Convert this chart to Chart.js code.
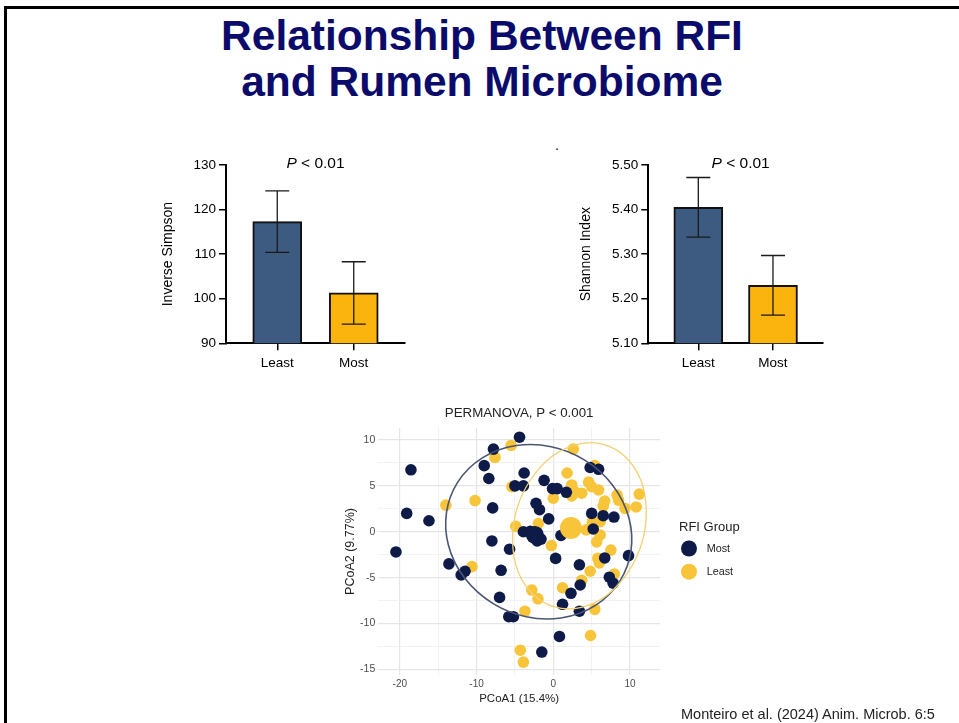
<!DOCTYPE html>
<html lang="en">
<head>
<meta charset="UTF-8">
<title>Relationship Between RFI and Rumen Microbiome</title>
<script src="https://cdn.jsdelivr.net/npm/chart.js"></script>
<style>
  html, body { margin: 0; padding: 0; background: #fff; }
  body { width: 959px; height: 723px; position: relative; overflow: hidden; font-family: "Liberation Sans", Arial, sans-serif; }
  .frame { position: absolute; left: 4px; top: 6px; width: 1000px; height: 800px; border-left: 3px solid #000; border-top: 3px solid #000; }
  h1 { position: absolute; left: 0; top: 13px; width: 964px; margin: 0; text-align: center; font-size: 42.5px; line-height: 46px; font-weight: bold; color: #0b0b6b; }
  canvas { position: absolute; }
  .dot { position: absolute; left: 555px; top: 137px; font-size: 14px; line-height: 16px; }
  .cite { position: absolute; left: 681px; top: 706px; font-size: 14.5px; line-height: 16px; color: #222; white-space: nowrap; }
</style>
</head>
<body>
<div class="frame"></div>
<h1>Relationship Between RFI<br>and Rumen Microbiome</h1>
<div class="dot">.</div>

<canvas id="simpson" width="270" height="240" style="left:150px; top:140px;"></canvas>
<canvas id="shannon" width="270" height="240" style="left:568px; top:140px;"></canvas>
<canvas id="pcoa" width="460" height="317" style="left:330px; top:395px;"></canvas>

<div class="cite">Monteiro et al. (2024) Anim. Microb. 6:5</div>

<script>
// --- datos de las barras ---
const groups = ['Least', 'Most'];
const barColors = ['#3d5a80', '#fbb30d'];
const inverseSimpson = [117.3, 101.3];
const inverseSimpsonErr = [6.9, 7.0];
const shannon = [5.405, 5.23];
const shannonErr = [0.067, 0.067];
const simpsonTicks = [90, 100, 110, 120, 130];
const shannonTicks = [5.1, 5.2, 5.3, 5.4, 5.5];

// --- datos de la PCoA (PCoA1, PCoA2) ---
const mostPC1 = [-4.4, -7.8, -18.55, -9.0, -8.4, -3.8, -5.0, -3.9, -7.9, -19.1, -16.2, -8.0, -5.7, -20.5, -13.6, -12.0, -11.5, -6.8, -7.0, -5.8, -5.2,
  -1.2, -0.1, 0.5, 1.7, 4.8, 5.9, -2.25, -1.8, -0.6, 5.0, 6.5, 7.9, -3.9, -3.0, -1.6, -2.1, -2.7, 1.0, 5.2, 9.8, 0.3, 3.4, 6.7, 7.3, 7.8, 2.3, 3.5, 1.2, 3.4, 0.8, -1.5];
const mostPC2 = [10.3, 9.0, 6.75, 7.2, 5.8, 6.4, 5.0, 5.0, 2.6, 2.0, 1.2, -1.0, -1.9, -2.2, -3.5, -4.7, -4.3, -4.2, -7.15, -9.25, -9.25,
  5.6, 4.7, 4.7, 4.3, 7.0, 6.8, 3.1, 2.4, 1.4, 2.0, 1.75, 1.6, 0.0, 0.05, -0.8, -1.0, -0.5, -0.4, 0.3, -2.6, -2.9, -3.6, -2.85, -4.95, -5.6, -6.7, -5.8, -7.9, -8.65, -11.4, -13.1];
const leastPC1 = [-5.5, -7.6, -5.4, -14.0, -10.2, -4.9, -10.6, 2.6, 5.4, 1.8, 4.6, 2.4, 5.9, 5.0, 2.8, 3.7, 2.4, 0.0, 8.3, 8.5, 6.7, 6.5, 11.2, 10.8, 9.35,
  5.1, 6.1, -1.95, 4.3, 6.1, 5.65, -0.25, 7.5, 5.8, 6.0, 4.8, 3.7, 7.95, -2.8, -2.0, 1.2, -3.7, 5.4, 4.85, -4.3, -3.9];
const leastPC2 = [9.4, 8.1, 4.9, 2.9, 3.4, 0.6, -3.8, 9.0, 7.2, 6.4, 5.4, 5.1, 4.55, 4.9, 4.35, 4.2, 3.9, 3.65, 4.0, 3.45, 3.35, 2.8, 4.1, 2.7, 2.55,
  1.1, 1.1, 0.9, 0.2, -0.35, -1.1, -1.5, -2.0, -2.9, -3.4, -4.3, -5.3, -4.6, -6.35, -7.3, -6.1, -8.65, -8.45, -11.3, -12.9, -14.2];
const mostCentroid = [-2.4, -0.35];
const leastCentroid = [2.3, 0.4];
// elipses: centro x, centro y, semiejes a y b, giro en grados
const mostEllipse = [-1.9, 0.0, 12.2, 9.4, -10];
const leastEllipse = [3.4, 0.65, 9.6, 8.1, 51.5];
const pcoaXTicks = [-20, -15, -10, -5, 0, 5, 10];
const pcoaYTicks = [-15, -12.5, -10, -7.5, -5, -2.5, 0, 2.5, 5, 7.5, 10];

const navy = '#0e1a48';
const gold = '#f8c43a';
const FONT = '"Liberation Sans", Arial, sans-serif';

// barras de error (media +/- error)
const errorBars = {
  id: 'errorBars',
  afterDatasetsDraw(chart) {
    const ctx = chart.ctx;
    const ds = chart.data.datasets[0];
    const yScale = chart.scales.y;
    ctx.save();
    ctx.strokeStyle = '#1a1a1a';
    ctx.lineWidth = 1.3;
    chart.getDatasetMeta(0).data.forEach((bar, i) => {
      const v = ds.data[i].y;
      const top = yScale.getPixelForValue(v + ds.errors[i]);
      const bot = yScale.getPixelForValue(v - ds.errors[i]);
      ctx.beginPath();
      ctx.moveTo(bar.x, top); ctx.lineTo(bar.x, bot);
      ctx.moveTo(bar.x - 12, top); ctx.lineTo(bar.x + 12, top);
      ctx.moveTo(bar.x - 12, bot); ctx.lineTo(bar.x + 12, bot);
      ctx.stroke();
    });
    ctx.restore();
  }
};

// texto "P < 0.01" con la P en cursiva
const pLabel = {
  id: 'pLabel',
  afterDraw(chart, args, opts) {
    const ctx = chart.ctx;
    const cx = chart.scales.x.getPixelForValue(0.5) + (opts.shift || 0);
    const y = chart.chartArea.top + 3.3;
    ctx.save();
    ctx.fillStyle = '#000';
    ctx.textBaseline = 'alphabetic';
    ctx.textAlign = 'left';
    ctx.font = 'italic 15.5px ' + FONT;
    const w1 = ctx.measureText('P').width;
    ctx.font = '15.5px ' + FONT;
    const w2 = ctx.measureText(opts.text).width;
    const x0 = cx - (w1 + w2) / 2;
    ctx.font = 'italic 15.5px ' + FONT;
    ctx.fillText('P', x0, y);
    ctx.font = '15.5px ' + FONT;
    ctx.fillText(opts.text, x0 + w1, y);
    ctx.restore();
  }
};

function barChart(id, values, errs, ticks, title, fmt, yWidth, pShift) {
  new Chart(document.getElementById(id), {
    type: 'bar',
    data: {
      datasets: [{
        data: values.map((v, i) => ({ x: i, y: v })),
        errors: errs,
        backgroundColor: barColors,
        borderColor: '#111',
        borderWidth: 2,
        borderSkipped: false,
        barThickness: 49
      }]
    },
    options: {
      responsive: false,
      animation: false,
      events: [],
      layout: { padding: { top: 25, right: 15, left: 0, bottom: 0 } },
      plugins: {
        legend: { display: false },
        tooltip: { enabled: false },
        pLabel: { text: ' < 0.01', shift: pShift }
      },
      scales: {
        x: {
          type: 'linear',
          offset: false,
          min: -0.67,
          max: 1.67,
          afterBuildTicks: s => { s.ticks = groups.map((g, i) => ({ value: i })); },
          afterFit: s => { s.height = 36.7; },
          ticks: {
            autoSkip: false,
            maxRotation: 0,
            padding: 5,
            color: '#000',
            font: { family: FONT, size: 13.5 },
            callback: v => groups[v]
          },
          grid: { offset: false, drawOnChartArea: false, drawTicks: true, tickLength: 7, color: '#000', lineWidth: 1.5 },
          border: { display: true, color: '#000', width: 2 }
        },
        y: {
          min: ticks[0],
          max: ticks[ticks.length - 1],
          afterBuildTicks: s => { s.ticks = ticks.map(v => ({ value: v })); },
          afterFit: s => { s.width = yWidth; },
          ticks: {
            padding: 3,
            color: '#000',
            font: { family: FONT, size: 13.5 },
            callback: fmt
          },
          title: { display: true, text: title, color: '#000', font: { family: FONT, size: 14 }, padding: { top: 10, bottom: 0 } },
          grid: { drawOnChartArea: false, drawTicks: true, tickLength: 7, color: '#000', lineWidth: 1.5 },
          border: { display: true, color: '#000', width: 2 }
        }
      }
    },
    plugins: [errorBars, pLabel]
  });
}

barChart('simpson', inverseSimpson, inverseSimpsonErr, simpsonTicks, 'Inverse Simpson', v => v, 76, 0);
barChart('shannon', shannon, shannonErr, shannonTicks, 'Shannon Index', v => v.toFixed(2), 80.3, 5);

// elipses de confianza dibujadas con las escalas del gráfico
const ellipses = {
  id: 'ellipses',
  afterDatasetsDraw(chart, args, opts) {
    const { ctx, scales: { x, y } } = chart;
    const sx = x.getPixelForValue(1) - x.getPixelForValue(0);
    const sy = y.getPixelForValue(1) - y.getPixelForValue(0);
    opts.items.forEach(item => {
      const [cx, cy, a, b, ang] = item.e;
      ctx.save();
      ctx.translate(x.getPixelForValue(cx), y.getPixelForValue(cy));
      ctx.scale(sx, sy);
      ctx.rotate(ang * Math.PI / 180);
      ctx.beginPath();
      ctx.ellipse(0, 0, a, b, 0, 0, Math.PI * 2);
      ctx.restore();
      ctx.save();
      ctx.strokeStyle = item.color;
      ctx.lineWidth = item.width;
      ctx.stroke();
      ctx.restore();
    });
  }
};

// título del panel y leyenda al estilo ggplot
const panelText = {
  id: 'panelText',
  afterDraw(chart, args, opts) {
    const { ctx, chartArea: a } = chart;
    ctx.save();
    ctx.fillStyle = '#222';
    ctx.textAlign = 'center';
    ctx.textBaseline = 'alphabetic';
    ctx.font = '13.3px ' + FONT;
    ctx.fillText(opts.title, (a.left + a.right) / 2, a.top - 11.3);

    ctx.textAlign = 'left';
    ctx.font = '13px ' + FONT;
    ctx.fillText(opts.legendTitle, a.right + 19, a.top + 103);
    ctx.font = '10.8px ' + FONT;
    ctx.textBaseline = 'middle';
    [0, 1].forEach(i => {
      const ds = chart.data.datasets[i];
      const cy = a.top + 120.5 + i * 23.2;
      ctx.beginPath();
      ctx.arc(a.right + 29, cy, 8, 0, Math.PI * 2);
      ctx.fillStyle = ds.backgroundColor;
      ctx.fill();
      ctx.fillStyle = '#222';
      ctx.fillText(ds.label, a.right + 46.7, cy + 0.5);
    });
    ctx.restore();
  }
};

const toPoints = (xs, ys) => xs.map((v, i) => ({ x: v, y: ys[i] }));

new Chart(document.getElementById('pcoa'), {
  type: 'scatter',
  data: {
    datasets: [
      { label: 'Most', data: toPoints(mostPC1, mostPC2), backgroundColor: navy, pointRadius: 5.8, borderWidth: 0, order: 2 },
      { label: 'Least', data: toPoints(leastPC1, leastPC2), backgroundColor: gold, pointRadius: 5.8, borderWidth: 0, order: 3 },
      { label: 'Most centroid', data: [{ x: mostCentroid[0], y: mostCentroid[1] }], backgroundColor: navy, pointRadius: 9, borderWidth: 0, order: 1 },
      { label: 'Least centroid', data: [{ x: leastCentroid[0], y: leastCentroid[1] }], backgroundColor: gold, pointRadius: 11, borderWidth: 0, order: 0 }
    ]
  },
  options: {
    responsive: false,
    animation: false,
    events: [],
    layout: { padding: { top: 33, right: 130, left: 0, bottom: 0 } },
    plugins: {
      legend: { display: false },
      tooltip: { enabled: false },
      ellipses: {
        items: [
          { e: mostEllipse, color: '#4b5675', width: 1.6 },
          { e: leastEllipse, color: '#f2d172', width: 1.3 }
        ]
      },
      panelText: { title: 'PERMANOVA, P < 0.001', legendTitle: 'RFI Group' }
    },
    scales: {
      x: {
        type: 'linear',
        min: -22.8,
        max: 13.9,
        afterBuildTicks: s => { s.ticks = pcoaXTicks.map(v => ({ value: v })); },
        afterFit: s => { s.height = 37; },
        ticks: {
          autoSkip: false,
          maxRotation: 0,
          padding: 3,
          color: '#4d4d4d',
          font: { family: FONT, size: 10 },
          callback: v => (v % 10 === 0 ? String(v) : '')
        },
        title: { display: true, text: 'PCoA1 (15.4%)', color: '#222', font: { family: FONT, size: 11.5 }, padding: { top: 0, bottom: 6 } },
        grid: {
          drawTicks: false,
          color: c => (c.tick && c.tick.value % 10 === 0 ? '#e6e6e6' : '#efefef'),
          lineWidth: c => (c.tick && c.tick.value % 10 === 0 ? 1.2 : 0.8)
        },
        border: { display: false }
      },
      y: {
        min: -15.6,
        max: 11.3,
        afterBuildTicks: s => { s.ticks = pcoaYTicks.map(v => ({ value: v })); },
        afterFit: s => { s.width = 48.3; },
        ticks: {
          autoSkip: false,
          padding: 3,
          color: '#4d4d4d',
          font: { family: FONT, size: 10.5 },
          callback: v => (v % 5 === 0 ? String(v) : '')
        },
        title: { display: true, text: 'PCoA2 (9.77%)', color: '#222', font: { family: FONT, size: 12.5 }, padding: { top: 13.5, bottom: 0 } },
        grid: {
          drawTicks: false,
          color: c => (c.tick && c.tick.value % 5 === 0 ? '#e6e6e6' : '#efefef'),
          lineWidth: c => (c.tick && c.tick.value % 5 === 0 ? 1.2 : 0.8)
        },
        border: { display: false }
      }
    }
  },
  plugins: [ellipses, panelText]
});
</script>
</body>
</html>
